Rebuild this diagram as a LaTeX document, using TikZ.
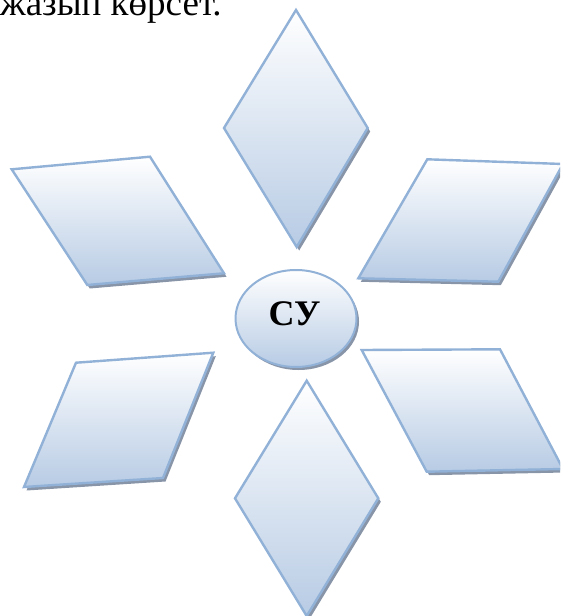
\documentclass[tikz,border=0pt]{standalone}
\usepackage{fontspec}
\setmainfont{Liberation Serif}
\definecolor{edgeblue}{RGB}{145,177,215}
\definecolor{fillblue}{RGB}{183,203,228}
\definecolor{shadowgray}{RGB}{136,148,168}
\tikzset{
  shapefill/.style={top color=white, bottom color=fillblue, draw=edgeblue, line width=2.4pt, line join=miter},
  shadowfill/.style={fill=shadowgray},
}
\newcommand\gempiece[1]{%
  \fill[shadowfill, shift={(2.5,3.5)}] #1 -- cycle;
  \path[shapefill] #1 -- cycle;}
\begin{document}
\begin{tikzpicture}[x=1pt,y=-1pt]
\useasboundingbox (0,0) rectangle (560,616);
\clip (0,0) rectangle (560,616);
\node[anchor=base west, font=\fontsize{37}{40}\selectfont, inner sep=0] (title) at (0,15) {жазып көрсет.};
% top diamond
\gempiece{(296,10) -- (367.7,128) -- (296.7,247) -- (224,128)}
% bottom diamond
\gempiece{(306.7,380.7) -- (378.3,498.3) -- (306.7,616) -- (235,498.3)}
% top-left parallelogram
\gempiece{(11.7,169.3) -- (150,156.7) -- (224,273.3) -- (87.3,285)}
% top-right parallelogram
\gempiece{(427.3,159.3) -- (563,164) -- (498.3,281.7) -- (358.3,278.3)}
% bottom-left parallelogram
\gempiece{(76,362.7) -- (213.3,352.7) -- (163,478) -- (24,487)}
% bottom-right parallelogram
\gempiece{(361.7,350) -- (500,349.3) -- (563,469) -- (426.7,471.7)}
% centre ellipse
\fill[shadowfill] (298.5,321.5) ellipse [x radius=60.5, y radius=48.5];
\path[shapefill, line width=2pt] (296,318.5) ellipse [x radius=60.5, y radius=48.5];
\node[font=\fontsize{36}{38}\selectfont\bfseries, inner sep=0] (su) at (294.5,313.3) {СУ};
\end{tikzpicture}
\end{document}
